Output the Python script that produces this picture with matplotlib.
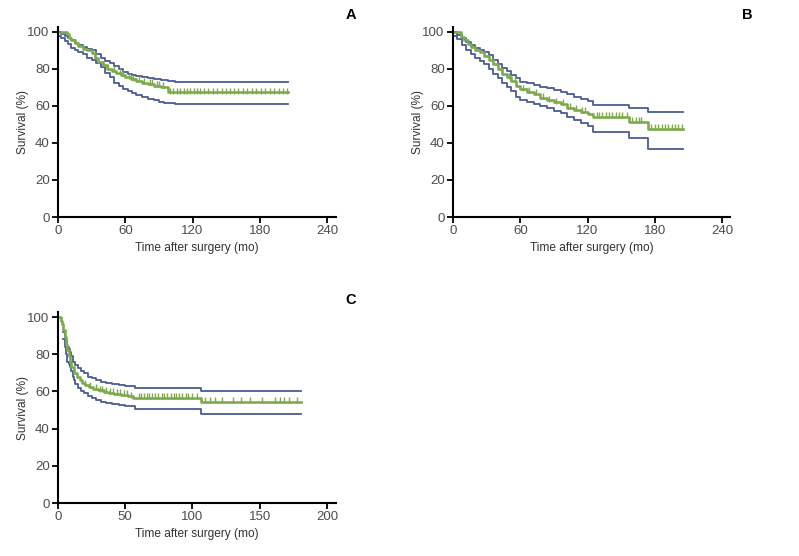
import numpy as np
import matplotlib
matplotlib.use("Agg")
import matplotlib.pyplot as plt

plt.rcParams["font.family"] = ["Liberation Sans Narrow", "Liberation Sans", "DejaVu Sans"]

BLUE = "#4b5c93"
GREEN = "#7dab4c"
TICKGREY = "#4d4d4d"

# ---- panel A: survival step curves (months, %) ----
a_up_t = [0, 3, 6, 9, 12, 15, 18, 22, 26, 30, 34, 38, 42, 46, 50, 54, 58, 62, 66, 70, 75, 80, 86, 92, 98, 104, 205]
a_up_s = [100, 99, 98, 97, 95.5, 94, 93, 92, 91, 90, 88, 86, 84.5, 83, 81.5, 80, 78.5, 77.5, 76.5, 76, 75.5, 75, 74.5, 74, 73.5, 72.8, 72.8]
a_km_t = [0, 8, 10, 12, 15, 18, 22, 26, 30, 33, 36, 40, 44, 48, 52, 56, 60, 65, 70, 75, 80, 86, 92, 98, 205]
a_km_s = [100, 99, 97, 95.5, 94, 92.5, 91, 90, 88.5, 86, 84, 82, 80, 79, 78, 77, 75.5, 74.5, 73.5, 72.5, 72, 71, 70.5, 67.4, 67.4]
a_lo_t = [0, 3, 6, 9, 12, 15, 18, 22, 26, 30, 34, 38, 42, 46, 50, 54, 58, 62, 66, 70, 75, 80, 86, 90, 95, 104, 205]
a_lo_s = [98, 97, 95, 93.5, 91.5, 90, 89, 88, 86, 85, 83.5, 81, 78, 75.5, 72.5, 71, 69, 68, 67, 66, 65, 64, 63, 62, 61.5, 61, 61]
a_cens = [45, 50, 55, 58, 63, 67, 72, 77, 82, 84, 88, 90, 94,
          100, 103, 106, 109, 112, 115, 118, 121, 124, 127, 130, 134, 138, 142, 146, 150,
          153, 157, 161, 165, 169, 173, 177, 181, 185, 189, 193, 197, 201, 204]

# ---- panel B ----
b_up_t = [0, 4, 8, 12, 16, 20, 24, 28, 32, 36, 40, 44, 48, 52, 56, 60, 66, 72, 78, 84, 90, 96, 102, 108, 114, 120, 125, 157, 174, 205]
b_up_s = [100, 98.5, 96.5, 94.5, 93, 91.5, 90.5, 89, 87.5, 85, 82.5, 80.5, 79, 77, 75, 73, 72.5, 71.5, 70.5, 69.7, 68.5, 67.5, 66.5, 65, 64, 62.5, 60.5, 58.7, 57, 57]
b_km_t = [0, 7, 10, 13, 16, 20, 24, 28, 32, 36, 40, 44, 48, 52, 56, 60, 66, 72, 78, 84, 90, 96, 102, 108, 114, 120, 125, 157, 174, 205]
b_km_s = [100, 97.5, 95.5, 93.5, 92, 90.5, 89, 87, 85, 82.5, 80, 77.5, 75.5, 73.5, 71, 69, 67.5, 66.5, 64.5, 63, 62, 61, 59, 58, 57, 55.5, 54.2, 51.5, 47.5, 47.5]
b_lo_t = [0, 4, 8, 12, 16, 20, 24, 28, 32, 36, 40, 44, 48, 52, 56, 60, 66, 72, 78, 84, 90, 96, 102, 108, 114, 120, 125, 157, 174, 205]
b_lo_s = [98, 96, 93, 90, 88, 86, 84.5, 82.5, 80, 77.5, 75, 72.5, 70, 68, 65, 63, 62, 61, 60, 59, 57.5, 56, 54, 52.5, 51, 49, 46, 42.6, 36.8, 36.8]
b_cens = [50, 55, 62, 68, 74, 80, 86, 92, 98, 104, 110, 115, 118,
          128, 130, 133, 136, 139, 142, 145, 148, 151, 155, 160, 163, 166, 168,
          177, 180, 183, 186, 189, 192, 195, 198, 201, 204]

# ---- panel C ----
c_up_t = [4, 5, 6, 7, 8, 9, 10, 11, 13, 15, 17, 19, 22, 25, 28, 32, 36, 40, 45, 50, 57, 106, 181]
c_up_s = [92, 89, 87, 84, 83, 81, 79, 76, 74, 72.5, 71, 70, 68, 67, 66, 65, 64.5, 64, 63.3, 63, 61.8, 60.2, 60.2]
c_km_t = [0, 2, 3, 4, 5, 6, 7, 8, 9, 10, 12, 14, 16, 18, 20, 23, 26, 30, 34, 38, 42, 47, 52, 56, 106, 181]
c_km_s = [100, 98, 96, 93, 89, 85, 82, 79, 76, 73, 70, 67.5, 66, 64.5, 63.5, 62.5, 61.5, 60.5, 59.7, 59.2, 58.7, 58, 57.3, 56.4, 54.5, 54.5]
c_lo_t = [4, 5, 6, 7, 8, 9, 10, 11, 12, 13, 15, 17, 19, 22, 25, 28, 32, 36, 40, 45, 50, 57, 106, 181]
c_lo_s = [88, 84, 80, 76, 75, 73, 71, 68, 66, 64, 62, 60, 59, 57.5, 56.4, 55.5, 54.5, 53.8, 53.3, 52.7, 52, 50.5, 47.8, 47.8]
c_cens = [20, 24, 28, 31, 33, 36, 39, 41, 44, 46, 49, 51, 54,
          60, 62, 64, 66, 68, 70, 72, 74, 77, 79, 81, 84, 86, 88, 90, 92, 95, 97, 100, 103,
          109, 113, 117, 122, 130, 136, 143, 152, 161, 165, 168, 172, 178]

W, H = 799, 556
fig = plt.figure(figsize=(W / 100, H / 100), dpi=100)


def px_axes(x0, y0, x1, y1):
    # pixel box (left, top, right, bottom) -> figure axes
    return fig.add_axes([x0 / W, 1 - y1 / H, (x1 - x0) / W, (y1 - y0) / H])


def step_at(t, s, c):
    idx = np.searchsorted(t, c, side="right") - 1
    return np.asarray(s)[idx]


def panel(ax, up, km, lo, cens, xmax, xticks, label, lx, ly):
    for t, s in (up, lo):
        ax.step(t, s, where="post", color=BLUE, lw=1.3)
    ax.step(km[0], km[1], where="post", color=GREEN, lw=1.9)
    # censor marks sit just above the curve
    ax.plot(cens, step_at(km[0], km[1], cens) + 0.9, ls="none", marker="|",
            ms=3.8, mew=1.0, color=GREEN)
    ax.set_xlim(0, xmax)
    ax.set_ylim(0, 102.7)
    ax.set_xticks(xticks)
    ax.set_yticks([0, 20, 40, 60, 80, 100])
    for sp in ("top", "right"):
        ax.spines[sp].set_visible(False)
    for sp in ("left", "bottom"):
        ax.spines[sp].set_linewidth(1.5)
        ax.spines[sp].set_color("black")
    ax.tick_params(direction="out", length=4, width=1.3, labelsize=9.5,
                   labelcolor=TICKGREY, pad=2)
    ax.set_ylabel("Survival (%)", fontsize=8.6, color="#333333", labelpad=-1)
    ax.set_xlabel("Time after surgery (mo)", fontsize=8.6, color="#333333", labelpad=3)
    fig.text(lx / W, 1 - ly / H, label, fontsize=10.5, fontweight="bold",
             ha="center", va="center")


axA = px_axes(58, 27, 336, 217)
panel(axA, (a_up_t, a_up_s), (a_km_t, a_km_s), (a_lo_t, a_lo_s), a_cens,
      248, [0, 60, 120, 180, 240], "A", 351, 15)

axB = px_axes(453, 27, 730, 217)
panel(axB, (b_up_t, b_up_s), (b_km_t, b_km_s), (b_lo_t, b_lo_s), b_cens,
      247, [0, 60, 120, 180, 240], "B", 747, 15)

axC = px_axes(58, 312, 336, 503)
panel(axC, (c_up_t, c_up_s), (c_km_t, c_km_s), (c_lo_t, c_lo_s), c_cens,
      206.7, [0, 50, 100, 150, 200], "C", 351, 300)

fig.savefig("out.png", dpi=100, facecolor="white")
